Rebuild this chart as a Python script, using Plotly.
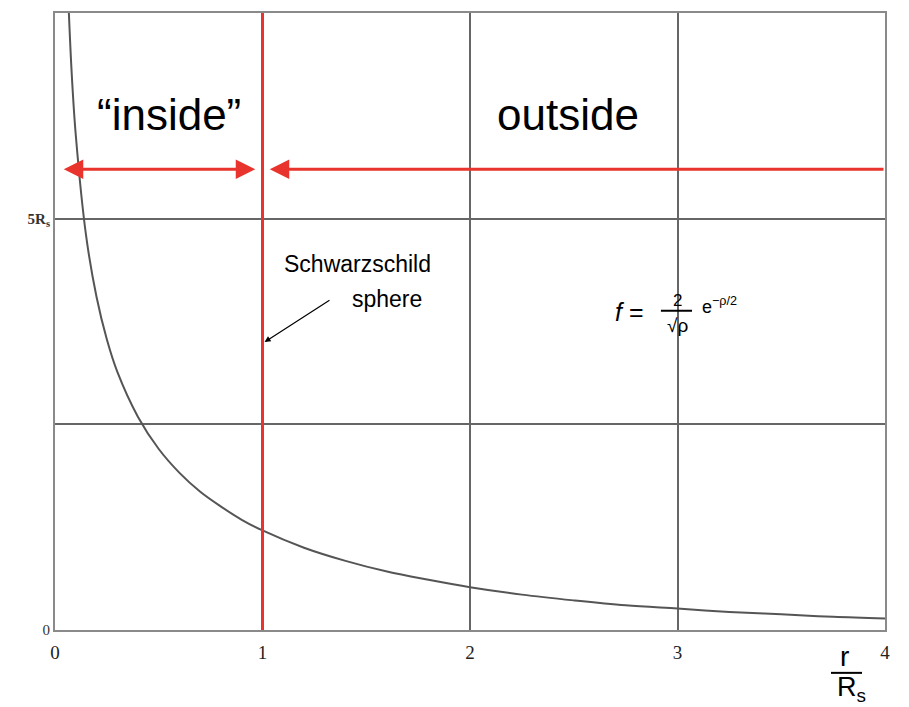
import plotly.graph_objects as go

# curve values (r/Rs vs f)
rho = [0.06, 0.08, 0.1, 0.15, 0.2, 0.25, 0.3, 0.4, 0.5, 0.6, 0.7, 0.8, 0.9, 1.0,
       1.2, 1.4, 1.6, 1.8, 2.0, 2.25, 2.5, 2.75, 3.0, 3.25, 3.5, 3.75, 4.0]
f_vals = [7.92, 6.79, 6.02, 4.79, 4.05, 3.53, 3.14, 2.59, 2.20, 1.91, 1.68, 1.50, 1.34, 1.21,
          1.00, 0.84, 0.71, 0.61, 0.52, 0.43, 0.36, 0.30, 0.26, 0.22, 0.19, 0.16, 0.14]

x_ticks = [0, 1, 2, 3, 4]
x_labels = ["0", "1", "2", "3", "4"]
y_ticks = [0, 2.5, 5]
y_labels = ["0", "", "<b>5R<sub>s</sub></b>"]

RED = "#e8342c"
GRID = "#666666"
SANS = "Liberation Sans, Arial, sans-serif"
SERIF = "Liberation Serif, Times New Roman, serif"

# page has an 8px body margin; margins chosen so the plot box sits at 55..885 x 11..630
ML, MR, MT, MB = 47, 32, 3, 85
W, H = 909 - ML - MR, 707 - MT - MB


def px(xp, yp):
    # page pixel -> paper coordinates
    return (xp - 8 - ML) / W, (707 - MB - (yp - 8)) / H


fig = go.Figure()
fig.add_trace(go.Scatter(x=rho, y=f_vals, mode="lines", line=dict(color="#555555", width=2),
                         line_shape="spline", showlegend=False, hoverinfo="skip"))

# Schwarzschild radius
fig.add_shape(type="line", x0=1, x1=1, y0=0, y1=7.5, xref="x", yref="y",
              line=dict(color=RED, width=3))

# inside / outside arrows
fig.add_annotation(x=0.965, y=5.6, ax=0.035, ay=5.6, xref="x", yref="y", axref="x", ayref="y",
                   text="", showarrow=True, arrowside="end+start", arrowhead=2, arrowsize=1.3,
                   arrowwidth=3, arrowcolor=RED)
fig.add_annotation(x=1.035, y=5.6, ax=4.0, ay=5.6, xref="x", yref="y", axref="x", ayref="y",
                   text="", showarrow=True, arrowhead=2, arrowsize=1.3,
                   arrowwidth=3, arrowcolor=RED)

fig.add_annotation(x=0.55, y=6.27, xref="x", yref="y", text="\u201cinside\u201d", showarrow=False,
                   font=dict(family=SANS, size=44, color="black"))
fig.add_annotation(x=2.47, y=6.27, xref="x", yref="y", text="outside", showarrow=False,
                   font=dict(family=SANS, size=44, color="black"))

# Schwarzschild sphere label
fig.add_annotation(x=1.46, y=4.45, xref="x", yref="y", text="Schwarzschild", showarrow=False,
                   font=dict(family=SANS, size=23, color="black"))
fig.add_annotation(x=1.6, y=4.02, xref="x", yref="y", text="sphere", showarrow=False,
                   font=dict(family=SANS, size=23, color="black"))
fig.add_annotation(x=1.01, y=3.5, ax=1.33, ay=4.02, xref="x", yref="y", axref="x", ayref="y",
                   text="", showarrow=True, arrowhead=2, arrowsize=1, arrowwidth=1.2,
                   arrowcolor="black")

# formula f = 2/sqrt(rho) e^(-rho/2)
fig.add_annotation(x=2.77, y=3.86, xref="x", yref="y", text="<i>f</i> =", showarrow=False,
                   font=dict(family=SANS, size=25, color="black"))
fig.add_annotation(x=3.0, y=4.0, xref="x", yref="y", text="2", showarrow=False,
                   font=dict(family=SANS, size=17, color="black"))
fig.add_shape(type="line", x0=2.92, x1=3.07, y0=3.88, y1=3.88, xref="x", yref="y",
              line=dict(color="black", width=2))
fig.add_annotation(x=3.0, y=3.7, xref="x", yref="y", text="\u221a\u03c1", showarrow=False,
                   font=dict(family=SANS, size=19, color="black"))
fig.add_annotation(x=3.2, y=3.95, xref="x", yref="y", text="e<sup>\u2212\u03c1/2</sup>",
                   showarrow=False, font=dict(family=SANS, size=18, color="black"))

# x axis title as a fraction r / Rs
rx, ry = px(844, 657)
fig.add_annotation(x=rx, y=ry, xref="paper", yref="paper", text="r", showarrow=False,
                   xanchor="center", yanchor="middle",
                   font=dict(family=SANS, size=28, color="black"))
bx0, by = px(831, 673)
bx1, _ = px(862, 673)
fig.add_shape(type="line", x0=bx0, x1=bx1, y0=by, y1=by, xref="paper", yref="paper",
              line=dict(color="black", width=2))
sx, sy = px(851, 689)
fig.add_annotation(x=sx, y=sy, xref="paper", yref="paper", text="R<sub>s</sub>", showarrow=False,
                   xanchor="center", yanchor="middle",
                   font=dict(family=SANS, size=27, color="black"))

fig.update_layout(
    width=909, height=707,
    margin=dict(l=ML, r=MR, t=MT, b=MB),
    paper_bgcolor="white", plot_bgcolor="white",
    showlegend=False,
)

fig.update_xaxes(range=[0, 4], tickvals=x_ticks, ticktext=x_labels, showgrid=True,
                 gridcolor=GRID, gridwidth=2, zeroline=False, showline=True, mirror=True,
                 linecolor="#8a8a8a", linewidth=2, ticks="", ticklabelstandoff=4,
                 tickfont=dict(family=SERIF, size=19, color="#222222"))
fig.update_yaxes(range=[0, 7.5], tickvals=y_ticks, ticktext=y_labels, showgrid=True,
                 gridcolor=GRID, gridwidth=2, zeroline=False, showline=True, mirror=True,
                 linecolor="#8a8a8a", linewidth=2, ticks="",
                 tickfont=dict(family=SERIF, size=15, color="#333333"))

fig.write_html("out.html")
